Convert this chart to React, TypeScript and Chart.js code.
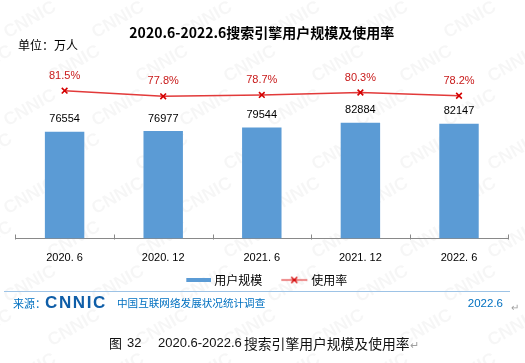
import React, { useEffect, useRef } from "react";
import { Chart, registerables } from "chart.js";

Chart.register(...registerables);

const categories = ["2020. 6", "2020. 12", "2021. 6", "2021. 12", "2022. 6"];
const userScale = [76554, 76977, 79544, 82884, 82147];
const usageRate = [81.5, 77.8, 78.7, 80.3, 78.2];
const seriesNames = ["用户规模", "使用率"];
const titleText = "2020.6-2022.6搜索引擎用户规模及使用率";
const unitText = "单位：万人";

const BAR_COLOR = "#5B9BD5";
const LINE_COLOR = "#E23A3A";
const MARK_COLOR = "#D40000";
const RATE_LABEL_COLOR = "#C81A1A";
const FOOT_BLUE = "#0070C0";
const CJK = '"Noto Sans CJK SC", sans-serif';
const NUM = '"Liberation Sans", Arial, sans-serif';

const watermarkPlugin = {
  id: "watermark",
  beforeDraw(chart: any) {
    const ctx = chart.ctx;
    ctx.save();
    ctx.fillStyle = "rgba(0,0,0,0.035)";
    ctx.font = `bold 18px ${NUM}`;
    ctx.textAlign = "center";
    ctx.textBaseline = "middle";
    for (let row = -1; row < 10; row++) {
      for (let col = -1; col < 8; col++) {
        const x = col * 88 + (row % 2 === 0 ? 0 : 44) + 30;
        const y = row * 44 + 20;
        ctx.save();
        ctx.translate(x, y);
        ctx.rotate(-0.52);
        ctx.fillText("CNNIC", 0, 0);
        ctx.restore();
      }
    }
    ctx.restore();
  },
};

const insideTicksPlugin = {
  id: "insideTicks",
  afterDraw(chart: any) {
    const xs = chart.scales.x;
    const ctx = chart.ctx;
    const n = categories.length;
    const step = xs.width / n;
    const y = Math.round(chart.chartArea.bottom) + 0.5;
    ctx.save();
    ctx.strokeStyle = "#898989";
    ctx.lineWidth = 1;
    ctx.beginPath();
    for (let i = 0; i <= n; i++) {
      const x = Math.round(xs.left + i * step) + 0.5;
      ctx.moveTo(x, y - 5);
      ctx.lineTo(x, y);
    }
    ctx.stroke();
    ctx.restore();
  },
};

const dataLabelsPlugin = {
  id: "dataLabels",
  afterDatasetsDraw(chart: any) {
    const ctx = chart.ctx;
    ctx.save();
    ctx.textAlign = "center";
    ctx.textBaseline = "middle";
    chart.data.datasets.forEach((ds: any, di: number) => {
      const meta = chart.getDatasetMeta(di);
      meta.data.forEach((el: any, i: number) => {
        if (ds.type === "bar") {
          ctx.fillStyle = "#000";
          ctx.font = `11px ${NUM}`;
          ctx.fillText(String(ds.data[i]), el.x, el.y - 12.5);
        } else {
          ctx.fillStyle = RATE_LABEL_COLOR;
          ctx.font = `11px ${NUM}`;
          ctx.fillText(ds.data[i].toFixed(1) + "%", el.x, el.y - 15);
        }
      });
    });
    ctx.restore();
  },
};

function makeBarSwatch() {
  const c = document.createElement("canvas");
  c.width = 38;
  c.height = 4;
  const g = c.getContext("2d")!;
  g.fillStyle = BAR_COLOR;
  g.fillRect(13, 0, 25, 4);
  return c;
}

function makeLineSwatch() {
  const c = document.createElement("canvas");
  c.width = 38;
  c.height = 9;
  const g = c.getContext("2d")!;
  g.strokeStyle = LINE_COLOR;
  g.lineWidth = 1.2;
  g.beginPath();
  g.moveTo(11, 4.5);
  g.lineTo(37, 4.5);
  g.stroke();
  g.strokeStyle = MARK_COLOR;
  g.lineWidth = 1.4;
  g.beginPath();
  g.moveTo(21, 1.5);
  g.lineTo(27, 7.5);
  g.moveTo(27, 1.5);
  g.lineTo(21, 7.5);
  g.stroke();
  return c;
}

export default function App() {
  const ref = useRef<HTMLCanvasElement>(null);

  useEffect(() => {
    const canvas = ref.current!;
    const barSwatch = makeBarSwatch();
    const lineSwatch = makeLineSwatch();
    const chart = new Chart(canvas, {
      type: "bar",
      data: {
        labels: categories,
        datasets: [
          {
            type: "line",
            label: seriesNames[1],
            data: usageRate,
            yAxisID: "y2",
            borderColor: LINE_COLOR,
            borderWidth: 1.5,
            pointStyle: "crossRot",
            pointRadius: 4,
            pointBorderWidth: 1.6,
            pointBorderColor: MARK_COLOR,
            pointBackgroundColor: MARK_COLOR,
            tension: 0,
            order: 0,
          } as any,
          {
            type: "bar",
            label: seriesNames[0],
            data: userScale,
            yAxisID: "y",
            backgroundColor: BAR_COLOR,
            barPercentage: 0.4,
            categoryPercentage: 1,
            order: 1,
          } as any,
        ],
      },
      options: {
        responsive: false,
        animation: false,
        layout: { padding: { left: 15.3, right: 16.7, top: 0, bottom: 67 } },
        scales: {
          x: {
            offset: true,
            grid: { display: false, drawTicks: false },
            border: { display: true, color: "#898989", width: 1 },
            ticks: { padding: 13, color: "#000", font: { family: NUM, size: 11 } },
            afterFit: (s: any) => {
              s.height = 24.5;
            },
          },
          y: { display: false, min: 0, max: 120000 },
          y2: { display: false, min: -14.7, max: 94.3 },
        },
        plugins: {
          tooltip: { enabled: false },
          title: {
            display: true,
            text: titleText,
            color: "#000",
            font: { family: CJK, size: 14, weight: "bold", lineHeight: 1.2 },
            padding: { top: 24.6, bottom: 29.6 },
          },
          legend: {
            position: "bottom",
            labels: {
              usePointStyle: true,
              pointStyleWidth: 32,
              boxHeight: 12,
              padding: 11,
              color: "#000",
              font: { family: CJK, size: 12 },
              generateLabels: () => [
                {
                  text: seriesNames[0],
                  fillStyle: BAR_COLOR,
                  strokeStyle: "transparent",
                  lineWidth: 0,
                  pointStyle: barSwatch as any,
                  hidden: false,
                  datasetIndex: 1,
                  fontColor: "#000",
                },
                {
                  text: seriesNames[1],
                  fillStyle: LINE_COLOR,
                  strokeStyle: "transparent",
                  lineWidth: 0,
                  pointStyle: lineSwatch as any,
                  hidden: false,
                  datasetIndex: 0,
                  fontColor: "#000",
                },
              ],
            },
          },
        },
      } as any,
      plugins: [watermarkPlugin, insideTicksPlugin, dataLabelsPlugin],
    });
    return () => chart.destroy();
  }, []);

  const abs = (extra: React.CSSProperties): React.CSSProperties => ({
    position: "absolute",
    whiteSpace: "nowrap",
    ...extra,
  });

  return (
    <div style={{ position: "absolute", left: 0, top: 0, width: 525, height: 363, background: "#fff", overflow: "hidden" }}>
      <canvas ref={ref} width={525} height={363} style={{ position: "absolute", left: 0, top: 0, width: 525, height: 363 }} />
      <div style={abs({ left: 18, top: 38, fontFamily: CJK, fontSize: 12, lineHeight: "14px", color: "#000" })}>{unitText}</div>
      <div style={abs({ left: 4, top: 291, width: 506, height: 0, borderTop: "1px solid #9DC3E6" })} />
      <div style={abs({ left: 13, top: 296, fontFamily: CJK, fontSize: 11, lineHeight: "14px", color: FOOT_BLUE })}>来源：</div>
      <div style={abs({ left: 45, top: 294, fontFamily: NUM, fontSize: 17, fontWeight: 900, lineHeight: "18px", letterSpacing: "1.6px", color: "#0F5EA8" })}>CNNIC</div>
      <div style={abs({ left: 117, top: 296, fontFamily: CJK, fontSize: 10.6, lineHeight: "14px", color: FOOT_BLUE })}>中国互联网络发展状况统计调查</div>
      <div style={abs({ right: 22, top: 296, fontFamily: NUM, fontSize: 11.5, lineHeight: "14px", color: FOOT_BLUE })}>2022.6</div>
      <div style={abs({ left: 511, top: 300, fontFamily: CJK, fontSize: 10, lineHeight: "14px", color: "#A0A0A0" })}>↵</div>
      <div style={abs({ left: 109, top: 335, fontFamily: CJK, fontSize: 13, lineHeight: "16px", color: "#111" })}>图</div>
      <div style={abs({ left: 127, top: 335, fontFamily: NUM, fontSize: 13, lineHeight: "16px", color: "#111" })}>32</div>
      <div style={abs({ left: 158, top: 335, fontFamily: NUM, fontSize: 13, lineHeight: "16px", color: "#111" })}>2020.6-2022.6</div>
      <div style={abs({ left: 244, top: 335, fontFamily: CJK, fontSize: 13.8, lineHeight: "16px", color: "#111" })}>
        搜索引擎用户规模及使用率<span style={{ color: "#A0A0A0", fontSize: 11 }}>↵</span>
      </div>
    </div>
  );
}
